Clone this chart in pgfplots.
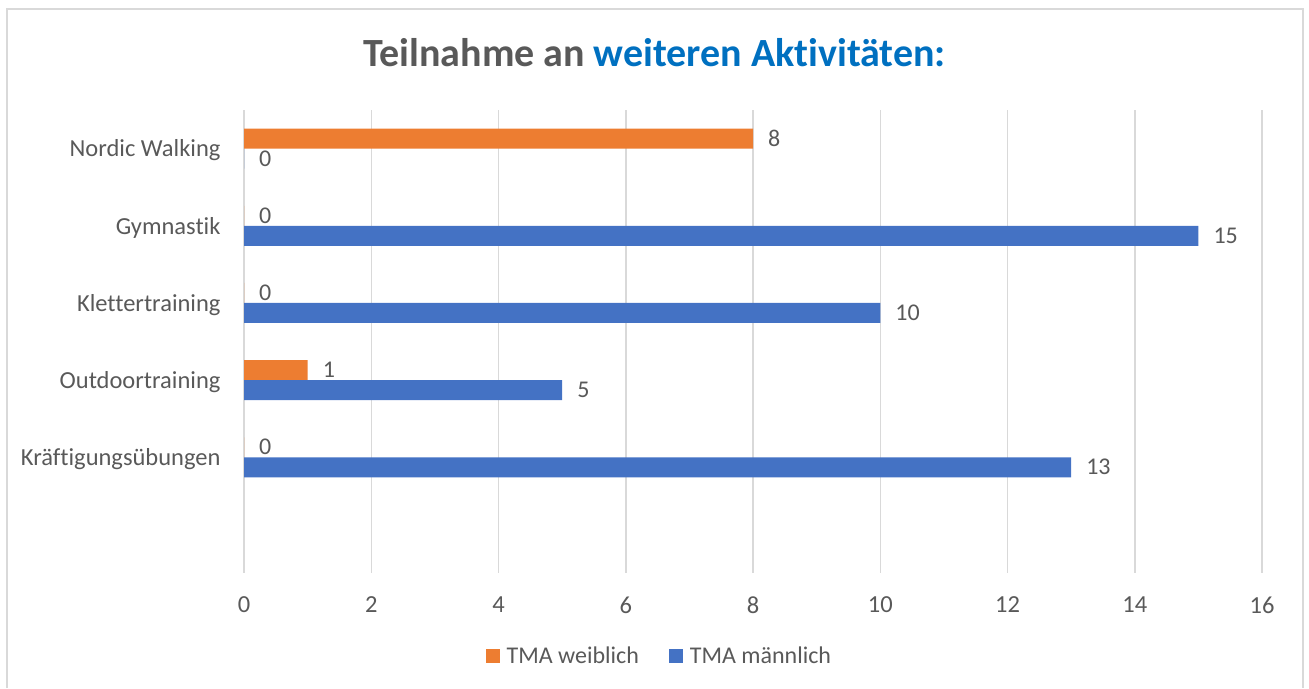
\documentclass[border=0pt]{standalone}
\usepackage{pgfplots}
\pgfplotsset{compat=1.18}
\usepackage{fontspec}
\setmainfont{Carlito}[RawFeature={-liga;-clig;-dlig;-calt}]
\definecolor{cOrange}{HTML}{ED7D31}
\definecolor{cBlue}{HTML}{4472C4}
\definecolor{cText}{HTML}{595959}
\definecolor{cTitleBlue}{HTML}{0070C0}
\definecolor{cGrid}{HTML}{D9D9D9}
\begin{document}
\begin{tikzpicture}[x=1pt,y=1pt]
\path[use as bounding box] (0,0) rectangle (1309,688);
\draw[cGrid, line width=2pt] (7,0) -- (7,679) -- (1303,679) -- (1303,0);
\node[anchor=base, text=cText, font=\fontsize{40}{46}\selectfont\bfseries, inner sep=0] at (654.5,621)
  {Teilnahme an \textcolor{cTitleBlue}{weiteren Aktivitäten:}};
\begin{axis}[
  at={(244pt,115pt)}, anchor=south west,
  scale only axis, width=1018pt, height=463pt,
  xbar, bar width=20pt,
  xmin=0, xmax=16, xtick={0,2,...,16},
  ymin=-0.5, ymax=5.5,
  ytick={0,1,2,3,4,5},
  yticklabels={{},Kräftigungsübungen,Outdoortraining,Klettertraining,Gymnastik,Nordic Walking},
  axis line style={draw=none},
  major tick length=0pt,
  xmajorgrids, grid style={cGrid, line width=1.5pt},
  ymajorgrids=false,
  tick label style={text=cText, font=\fontsize{24.5}{28}\selectfont},
  /pgf/number format/assume math mode=true,
  xticklabel style={yshift=-20pt},
  yticklabel style={xshift=-20pt, yshift=-2pt},
  nodes near coords,
  every node near coord/.append style={text=cText, font=\fontsize{24}{28}\selectfont, anchor=west, inner sep=0pt, xshift=15pt},
  legend columns=2,
  legend style={at={(rel axis cs:0.408,-0.179)}, anchor=center, draw=none, fill=none,
    font=\fontsize{24}{28}\selectfont, text=cText,
    /tikz/every odd column/.append style={column sep=5pt},
    /tikz/every even column/.append style={column sep=28pt}},
  legend image code/.code={\fill[#1] (0pt,-7pt) rectangle (14pt,7pt);},
  clip=false,
]
\addplot[fill=cOrange, draw=none, bar shift=10pt] coordinates {(0,1) (1,2) (0,3) (0,4) (8,5)};
\addlegendentry{TMA weiblich}
\addplot[fill=cBlue, draw=none, bar shift=-10pt] coordinates {(13,1) (5,2) (10,3) (15,4) (0,5)};
\addlegendentry{TMA männlich}
\end{axis}
\end{tikzpicture}
\end{document}
